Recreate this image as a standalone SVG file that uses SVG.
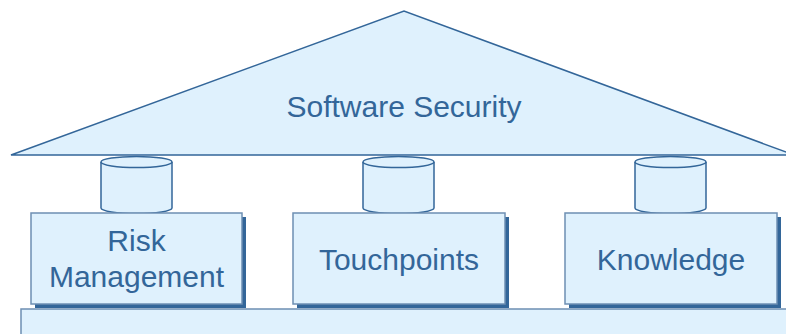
<svg xmlns="http://www.w3.org/2000/svg" width="786" height="334" viewBox="0 0 786 334">
  <style>
    .shape { fill: #dff1fd; stroke: #336699; stroke-width: 1.5; }
    .box { fill: #dff1fd; stroke: #6e8fb3; stroke-width: 1.5; }
    .shadow { fill: #336699; }
    .label { font-family: "Liberation Sans", Arial, sans-serif; font-size: 30px; fill: #336699; text-anchor: middle; }
  </style>
  <defs>
    <!-- pillar: cylinder 71 wide, top ellipse at y=0, bottom arc at y=46 -->
    <g id="pillar">
      <path class="shape" d="M0,0 L0,46 A35.5,5.5 0 0 0 71,46 L71,0"/>
      <ellipse class="shape" cx="35.5" cy="0" rx="35.5" ry="5.5"/>
    </g>
  </defs>

  <!-- foundation -->
  <g id="foundation">
    <rect class="box" x="21" y="309" width="780" height="40"/>
  </g>

  <!-- pillars -->
  <g id="pillar-1"><use href="#pillar" x="101" y="162"/></g>
  <g id="pillar-2"><use href="#pillar" x="363" y="162"/></g>
  <g id="pillar-3"><use href="#pillar" x="635" y="162"/></g>

  <!-- roof -->
  <g id="roof">
    <polygon class="shape" points="11,155 404,11 794,155"/>
    <text class="label" x="404" y="117">Software Security</text>
  </g>

  <!-- columns -->
  <g id="risk-management">
    <rect class="shadow" x="35" y="217" width="211" height="91"/>
    <rect class="box" x="31" y="213" width="211" height="91"/>
    <text class="label" x="136.5" y="251">Risk</text>
    <text class="label" x="136.5" y="287">Management</text>
  </g>
  <g id="touchpoints">
    <rect class="shadow" x="297" y="217" width="212" height="91"/>
    <rect class="box" x="293" y="213" width="212" height="91"/>
    <text class="label" x="399" y="270">Touchpoints</text>
  </g>
  <g id="knowledge">
    <rect class="shadow" x="569" y="217" width="212" height="91"/>
    <rect class="box" x="565" y="213" width="212" height="91"/>
    <text class="label" x="671" y="270">Knowledge</text>
  </g>
</svg>
